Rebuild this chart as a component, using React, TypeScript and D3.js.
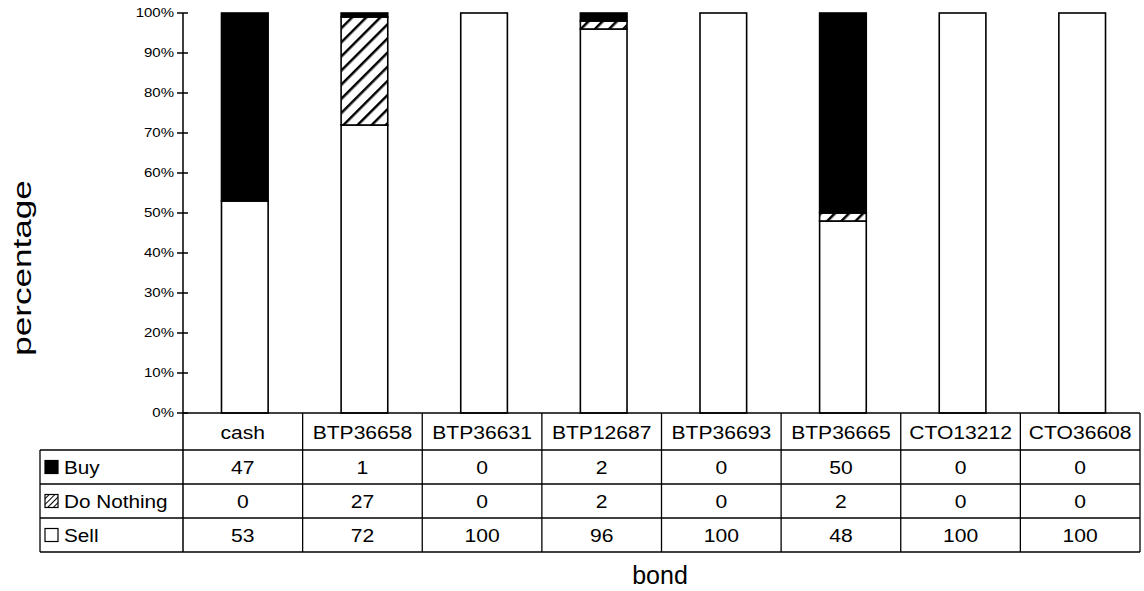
import React from "react";
import * as d3 from "d3";

const categories = ["cash", "BTP36658", "BTP36631", "BTP12687", "BTP36693", "BTP36665", "CTO13212", "CTO36608"];
const buyValues = [47, 1, 0, 2, 0, 50, 0, 0];
const doNothingValues = [0, 27, 0, 2, 0, 2, 0, 0];
const sellValues = [53, 72, 100, 96, 100, 48, 100, 100];
const seriesNames = ["Buy", "Do Nothing", "Sell"];
const yTicks = [0, 10, 20, 30, 40, 50, 60, 70, 80, 90, 100];

const W = 1144;
const H = 591;
const plotLeft = 183;
const plotRight = 1140;
const plotTop = 13;
const plotBottom = 413;
const rowLines = [413, 450, 484, 518, 552];
const tableLeft = 40;
const font = "Liberation Sans, Arial, sans-serif";
const SX = 1.14;

function T({ x, y, children, size, anchor = "middle", sx = SX }: any) {
  return (
    <text
      transform={`translate(${x},${y}) scale(${sx},1)`}
      textAnchor={anchor}
      dy="0.35em"
      fontFamily={font}
      fontSize={size}
      fill="#000"
    >
      {children}
    </text>
  );
}

export default function App() {
  const x = d3.scaleBand<string>().domain(categories).range([plotLeft, plotRight]).paddingInner(0).paddingOuter(0);
  const y = d3.scaleLinear().domain([0, 100]).range([plotBottom, plotTop]);
  const bw = x.bandwidth() * 0.39;

  const rows = categories.map((c, i) => ({ c, sell: sellValues[i], dn: doNothingValues[i], buy: buyValues[i] }));
  const stack = d3.stack<any>().keys(["sell", "dn", "buy"])(rows as any);
  const fills: Record<string, string> = { sell: "#ffffff", dn: "url(#hatch)", buy: "#000000" };

  const seriesData = [buyValues, doNothingValues, sellValues];

  return (
    <svg width={W} height={H} style={{ position: "absolute", left: 0, top: 0, background: "#fff" }}>
      <defs>
        <pattern id="hatch" patternUnits="userSpaceOnUse" width="10" height="10" patternTransform="rotate(45)">
          <rect width="10" height="10" fill="#fff" />
          <line x1="0" y1="0" x2="0" y2="10" stroke="#000" strokeWidth="5" />
        </pattern>
        <pattern id="hatchSmall" patternUnits="userSpaceOnUse" width="4" height="4" patternTransform="rotate(45)">
          <rect width="4" height="4" fill="#fff" />
          <line x1="0" y1="0" x2="0" y2="4" stroke="#000" strokeWidth="2" />
        </pattern>
      </defs>
      <rect width={W} height={H} fill="#fff" />
      {/* bars */}
      {stack.map((layer) =>
        layer.map((d, i) => {
          const h = y(d[0]) - y(d[1]);
          if (h <= 0) return null;
          const cx = (x(categories[i]) as number) + x.bandwidth() / 2 + 2;
          return (
            <rect
              key={layer.key + i}
              x={cx - bw / 2}
              y={y(d[1])}
              width={bw}
              height={h}
              fill={fills[layer.key as string]}
              stroke="#000"
              strokeWidth={1.6}
            />
          );
        })
      )}
      {/* y axis */}
      <line x1={plotLeft} y1={plotTop} x2={plotLeft} y2={rowLines[4]} stroke="#000" strokeWidth={1.5} />
      {yTicks.map((t) => (
        <g key={t}>
          <line x1={plotLeft - 6} x2={plotLeft + 5} y1={y(t)} y2={y(t)} stroke="#000" strokeWidth={1.5} />
          <T x={plotLeft - 9} y={y(t)} size={12.5} anchor="end" sx={1.2}>
            {t}%
          </T>
        </g>
      ))}
      {/* table */}
      <line x1={plotLeft} x2={plotRight} y1={rowLines[0]} y2={rowLines[0]} stroke="#000" strokeWidth={1.5} />
      {rowLines.slice(1).map((ly) => (
        <line key={ly} x1={tableLeft} x2={plotRight} y1={ly} y2={ly} stroke="#000" strokeWidth={1.3} />
      ))}
      <line x1={tableLeft} x2={tableLeft} y1={rowLines[1]} y2={rowLines[4]} stroke="#000" strokeWidth={1.3} />
      {categories.map((c) => (
        <line key={c} x1={(x(c) as number) + x.bandwidth()} x2={(x(c) as number) + x.bandwidth()} y1={rowLines[0]} y2={rowLines[4]} stroke="#000" strokeWidth={1.3} />
      ))}
      {categories.map((c) => (
        <T key={c} x={(x(c) as number) + x.bandwidth() / 2} y={(rowLines[0] + rowLines[1]) / 2 + 1} size={18.5}>
          {c}
        </T>
      ))}
      {seriesNames.map((s, r) => {
        const cy = (rowLines[r + 1] + rowLines[r + 2]) / 2;
        const swFill = r === 0 ? "#000" : r === 1 ? "url(#hatchSmall)" : "#fff";
        return (
          <g key={s}>
            <rect x={tableLeft + 5} y={cy - 6.5} width={13} height={13} fill={swFill} stroke="#000" strokeWidth={1.2} />
            <T x={tableLeft + 24} y={cy + 1} size={18.5} anchor="start" sx={1.12}>
              {s}
            </T>
            {categories.map((c, i) => (
              <T key={c} x={(x(c) as number) + x.bandwidth() / 2} y={cy + 1} size={18.5}>
                {seriesData[r][i]}
              </T>
            ))}
          </g>
        );
      })}
      {/* axis titles */}
      <text
        transform={`translate(22, 268) rotate(-90) scale(1.35,1)`}
        textAnchor="middle"
        dy="0.35em"
        fontFamily={font}
        fontSize={26}
        fill="#000"
      >
        percentage
      </text>
      <text x={660} y={584} textAnchor="middle" fontFamily={font} fontSize={25} fill="#000">
        bond
      </text>
    </svg>
  );
}
